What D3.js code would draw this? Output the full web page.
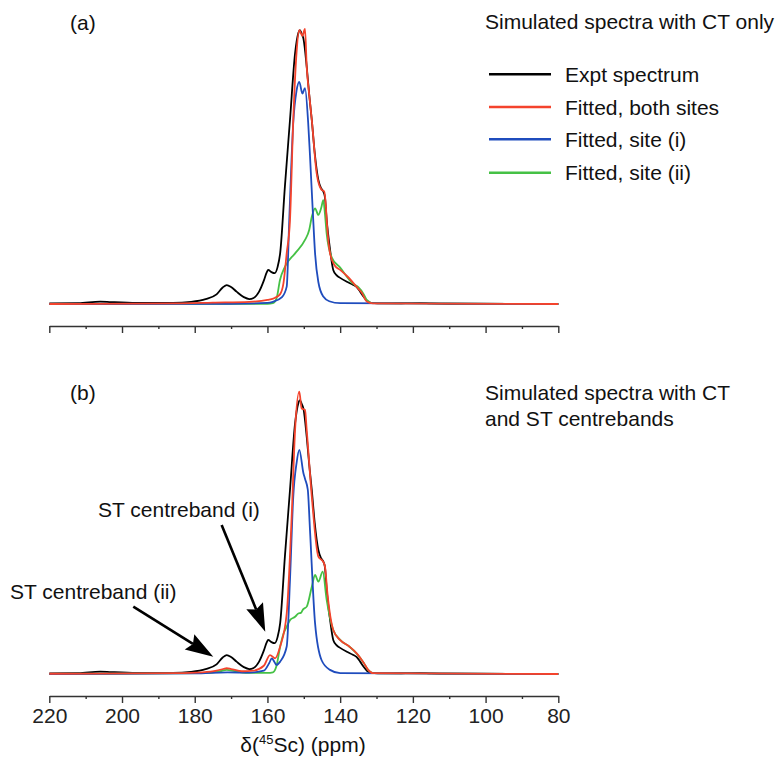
<!DOCTYPE html>
<html>
<head>
<meta charset="utf-8">
<script src="https://cdn.jsdelivr.net/npm/d3@7"></script>
<style>
  html, body { margin: 0; padding: 0; background: #fff; }
  svg { display: block; font-family: "Liberation Sans", Arial, Helvetica, sans-serif; }
</style>
</head>
<body>
<svg id="chart" width="780" height="759"></svg>
<script>
// ---------------- DATA ----------------
const xTicks = [220, 200, 180, 160, 140, 120, 100, 80];
const xMinorTicks = [210, 190, 170, 150, 130, 110, 90];

// Experimental spectrum (same in both panels)
const exptPpm = [220, 212, 206, 203, 196, 186, 181, 177, 174, 172.3, 171.2, 170, 168.5, 166.5, 165, 163.8, 162.3, 161, 160.2, 159.8, 158.9, 158, 157.2, 156.5, 155.2, 153.8, 152.4, 151.5, 151.1, 150.5, 150.1, 149.2, 148.5, 147.8, 147, 146, 145.2, 144.6, 144.2, 143.7, 142.8, 141.9, 141, 140, 138, 136.5, 135.5, 134.5, 133.6, 132.5, 131.5, 128, 122, 118, 115, 110, 80];
const exptInt = [0.002, 0.003, 0.009, 0.007, 0.004, 0.004, 0.008, 0.018, 0.035, 0.06, 0.069, 0.062, 0.045, 0.025, 0.018, 0.022, 0.045, 0.085, 0.115, 0.124, 0.116, 0.112, 0.135, 0.185, 0.427, 0.669, 0.911, 0.985, 0.996, 0.98, 0.965, 0.863, 0.76, 0.669, 0.55, 0.451, 0.42, 0.408, 0.39, 0.305, 0.2, 0.124, 0.105, 0.095, 0.08, 0.07, 0.062, 0.045, 0.027, 0.01, 0.004, 0.002, 0.003, 0.004, 0.002, 0.001, 0];

// Panel (a): CT only
const aBothPpm = [220, 185, 175, 165, 160, 158, 156.55, 155.6, 154.7, 153.8, 152.9, 152.0, 151.24, 150.4, 149.67, 149.2, 148.5, 147.8, 146.46, 145.1, 144.4, 143.9, 143.7, 142.8, 141.5, 140, 138, 135.5, 134, 132.7, 131, 80];
const aBothInt = [0, 0.002, 0.005, 0.008, 0.015, 0.022, 0.035, 0.075, 0.185, 0.305, 0.669, 0.913, 0.996, 0.975, 1.0, 0.863, 0.76, 0.669, 0.475, 0.415, 0.41, 0.35, 0.305, 0.185, 0.14, 0.124, 0.1, 0.063, 0.04, 0.009, 0.002, 0];

const aSite1Ppm = [220, 170, 160, 158.5, 156, 154.7, 154.0, 152.9, 152.0, 151.24, 150.4, 149.67, 148.8, 148.3, 147.5, 146.9, 146, 144.64, 143, 140, 80];
const aSite1Int = [0, 0.001, 0.004, 0.008, 0.025, 0.063, 0.305, 0.66, 0.775, 0.808, 0.765, 0.785, 0.66, 0.54, 0.33, 0.184, 0.08, 0.027, 0.01, 0.003, 0];

const aSite2Ppm = [220, 160, 158.5, 157.5, 156.55, 155.17, 152.4, 149.67, 148.5, 147.8, 146.9, 146.0, 145.2, 144.64, 144.2, 143.7, 142.33, 140.05, 136.4, 135.0, 133.5, 132.7, 130.9, 80];
const aSite2Int = [0, 0.001, 0.003, 0.02, 0.087, 0.136, 0.184, 0.233, 0.27, 0.317, 0.348, 0.324, 0.35, 0.378, 0.33, 0.255, 0.17, 0.133, 0.073, 0.061, 0.035, 0.015, 0.003, 0];

// Panel (b): CT and ST centrebands
const bBothPpm = [220, 185, 178, 174, 172, 171.2, 170, 167, 164, 161, 159.3, 157.9, 156.5, 154.7, 153.3, 152.4, 151.24, 150.6, 149.67, 149.2, 147.8, 146.0, 144.64, 144.17, 143.5, 141.9, 140.05, 137.5, 135.46, 133.5, 132.3, 131, 80];
const bBothInt = [0.001, 0.003, 0.006, 0.012, 0.019, 0.021, 0.018, 0.01, 0.012, 0.03, 0.069, 0.057, 0.1, 0.22, 0.584, 0.887, 1.027, 0.966, 0.96, 0.887, 0.645, 0.427, 0.408, 0.39, 0.293, 0.16, 0.124, 0.1, 0.075, 0.04, 0.015, 0.003, 0];

const bSite1Ppm = [220, 180, 171, 165, 161, 159.5, 158.8, 158, 157.5, 156.5, 154.7, 153.8, 152.9, 152.0, 151.24, 150.1, 149.67, 148.9, 148.3, 146.9, 145.1, 142.8, 140, 80];
const bSite1Int = [0, 0.002, 0.006, 0.005, 0.012, 0.04, 0.057, 0.042, 0.033, 0.045, 0.1, 0.342, 0.645, 0.766, 0.815, 0.73, 0.71, 0.67, 0.524, 0.184, 0.05, 0.015, 0.003, 0];

const bSite2Ppm = [220, 178, 173, 171.2, 169, 166, 160, 158.5, 157.5, 156.5, 155.5, 154.7, 153.8, 152.4, 151.5, 150.8, 150.2, 149.2, 147.8, 146.9, 146.0, 144.8, 143.7, 141.9, 140, 137.5, 135.5, 133.5, 132.3, 131, 80];
const bSite2Int = [0, 0.003, 0.01, 0.015, 0.01, 0.004, 0.004, 0.006, 0.03, 0.1, 0.15, 0.172, 0.196, 0.208, 0.22, 0.222, 0.235, 0.245, 0.317, 0.36, 0.336, 0.372, 0.269, 0.16, 0.124, 0.1, 0.075, 0.04, 0.015, 0.003, 0];

const legendLabels = ["Expt spectrum", "Fitted, both sites", "Fitted, site (i)", "Fitted, site (ii)"];
const seriesColors = ["#000000", "#f4432c", "#1f4cbd", "#45c145"];

// ---------------- DRAW ----------------
const svg = d3.select("#chart");
const FONT = 21;

const x = d3.scaleLinear().domain([220, 80]).range([49.3, 558.3]);

function zip(p, v) { return p.map((d, i) => ({ ppm: d, v: v[i] })); }

function panel(baseY, axisY, series, showLabels) {
  const y = d3.scaleLinear().domain([0, 1]).range([baseY, baseY - 275]);
  const line = d3.line().x(d => x(d.ppm)).y(d => y(d.v)).curve(d3.curveMonotoneX);
  const g = svg.append("g");
  // draw order: black, green, blue, red
  [0, 3, 2, 1].forEach(i => {
    g.append("path")
      .datum(series[i])
      .attr("fill", "none")
      .attr("stroke", seriesColors[i])
      .attr("stroke-width", 1.8)
      .attr("stroke-linejoin", "round")
      .attr("d", line);
  });
  // axis
  const major = d3.axisBottom(x).tickValues(xTicks).tickSize(7).tickSizeOuter(0).tickPadding(5)
    .tickFormat(showLabels ? d3.format("d") : () => "");
  const ax = svg.append("g").attr("transform", `translate(0,${axisY})`).call(major);
  ax.select(".domain").attr("stroke", "#333").attr("stroke-width", 1.4);
  ax.selectAll(".tick line").attr("stroke", "#333").attr("stroke-width", 1.4);
  ax.selectAll(".tick text").attr("fill", "#222").style("font-size", FONT + "px")
    .style("font-family", '"Liberation Sans", Arial, sans-serif');
  const minor = d3.axisBottom(x).tickValues(xMinorTicks).tickSize(3).tickSizeOuter(0).tickFormat(() => "");
  const mx = svg.append("g").attr("transform", `translate(0,${axisY})`).call(minor);
  mx.select(".domain").remove();
  mx.selectAll(".tick line").attr("stroke", "#333").attr("stroke-width", 1.4);
  return y;
}

const seriesA = [zip(exptPpm, exptInt), zip(aBothPpm, aBothInt), zip(aSite1Ppm, aSite1Int), zip(aSite2Ppm, aSite2Int)];
const seriesB = [zip(exptPpm, exptInt), zip(bBothPpm, bBothInt), zip(bSite1Ppm, bSite1Int), zip(bSite2Ppm, bSite2Int)];

const yA = panel(304, 326, seriesA, false);
const yB = panel(674, 696, seriesB, true);

function txt(xp, yp, s, anchor) {
  return svg.append("text").attr("x", xp).attr("y", yp).attr("text-anchor", anchor || "start")
    .attr("fill", "#111").style("font-size", FONT + "px").text(s);
}

// panel labels and titles
txt(70, 30, "(a)");
txt(485, 29, "Simulated spectra with CT only");
txt(70, 400, "(b)");
txt(485, 400, "Simulated spectra with CT");
txt(485, 426, "and ST centrebands");

// legend
const legY = [74.3, 107, 139.3, 172.7];
legendLabels.forEach((lab, i) => {
  svg.append("line").attr("x1", 489).attr("x2", 551).attr("y1", legY[i]).attr("y2", legY[i])
    .attr("stroke", seriesColors[i]).attr("stroke-width", 2.4);
  txt(565, legY[i] + 7.5, lab);
});

// x axis title
const title = svg.append("text").attr("x", 303).attr("y", 752).attr("text-anchor", "middle")
  .attr("fill", "#111").style("font-size", FONT + "px");
title.append("tspan").text("δ(");
title.append("tspan").attr("dy", -8).style("font-size", "13px").text("45");
title.append("tspan").attr("dy", 8).text("Sc) (ppm)");

// annotations
txt(98, 517, "ST centreband (i)");
txt(10, 599, "ST centreband (ii)");

function arrow(p0, p1) {
  const x0 = x(p0[0]), y0 = yB(p0[1]), x1 = x(p1[0]), y1 = yB(p1[1]);
  const ang = Math.atan2(y1 - y0, x1 - x0);
  const L = 28, W = 9, N = 4;
  const ux = Math.cos(ang), uy = Math.sin(ang), px = -uy, py = ux;
  const bx = x1 - ux * L, by = y1 - uy * L;
  svg.append("line").attr("x1", x0).attr("y1", y0).attr("x2", bx + ux * N).attr("y2", by + uy * N)
    .attr("stroke", "#000").attr("stroke-width", 2.6);
  const pts = [[x1, y1], [bx + px * W, by + py * W], [bx + ux * N, by + uy * N], [bx - px * W, by - py * W]];
  svg.append("polygon").attr("points", pts.map(p => p.join(",")).join(" ")).attr("fill", "#000");
}
arrow([172.6, 0.542], [160.6, 0.154]);
arrow([196.9, 0.245], [174.9, 0.063]);
</script>
</body>
</html>
